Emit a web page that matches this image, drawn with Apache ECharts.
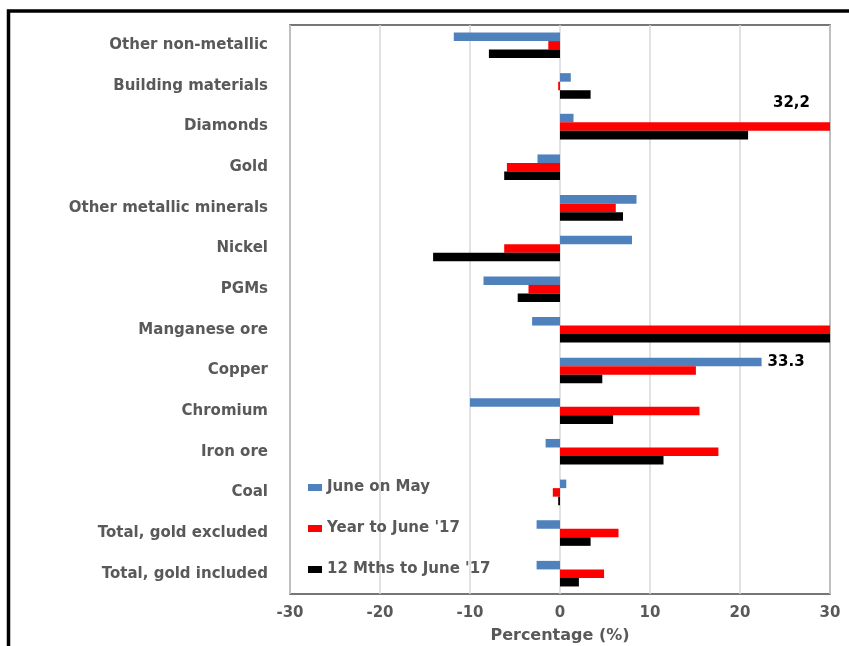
<!DOCTYPE html>
<html>
<head>
<meta charset="utf-8">
<script src="https://cdn.jsdelivr.net/npm/echarts@6/dist/echarts.min.js"></script>
<style>
  html, body { margin: 0; padding: 0; background: #fff; }
  #chart { width: 849px; height: 646px; }
</style>
</head>
<body>
<div id="chart"></div>
<script>
const categories = [
  "Other non-metallic", "Building materials", "Diamonds", "Gold",
  "Other metallic minerals", "Nickel", "PGMs", "Manganese ore", "Copper",
  "Chromium", "Iron ore", "Coal", "Total, gold excluded", "Total, gold included"
];
const seriesNames = ["June on May", "Year to June '17", "12 Mths to June '17"];
const juneOnMay = [-11.8, 1.2, 1.5, -2.5, 8.5, 8.0, -8.5, -3.1, 22.4, -10.0, -1.6, 0.7, -2.6, -2.6];
const yearToJune = [-1.3, -0.2, 32.2, -5.9, 6.2, -6.2, -3.5, 30.5, 15.1, 15.5, 17.6, -0.8, 6.5, 4.9];
const twelveMonths = [-7.9, 3.4, 20.9, -6.2, 7.0, -14.1, -4.7, 30.5, 4.7, 5.9, 11.5, -0.2, 3.4, 2.1];
const xTicks = { min: -30, max: 30, interval: 10 };
// annotation texts as printed on the original
const notes = { diamonds: "32,2", copper: "33.3" };

const grey = "#595959";
const font = "DejaVu Sans";

const noteLabel = {
  show: true, color: "#000", fontFamily: font, fontWeight: "bold", fontSize: 15
};

const blueData = juneOnMay.map((v, i) =>
  categories[i] === "Copper"
    ? { value: v, label: Object.assign({}, noteLabel, { position: "right", distance: 6, formatter: notes.copper }) }
    : v);
const redData = yearToJune.map((v, i) =>
  categories[i] === "Diamonds"
    ? { value: v, label: Object.assign({}, noteLabel, { position: "insideRight", distance: 5, offset: [-15, -23], formatter: notes.diamonds }) }
    : v);

const chart = echarts.init(document.getElementById("chart"), null, { renderer: "canvas" });

const barBase = { type: "bar", barGap: "0%", barCategoryGap: "37%", clip: true };

chart.setOption({
  animation: false,
  backgroundColor: "#fff",
  grid: {
    left: 290, right: 19, top: 25, bottom: 52,
    outerBoundsMode: "none",
    show: true, borderColor: "#4a4a4a", borderWidth: 1.5, backgroundColor: "transparent"
  },
  legend: {
    orient: "vertical", left: 303, top: 474,
    itemWidth: 14, itemHeight: 7, itemGap: 24,
    icon: "rect",
    textStyle: { color: grey, fontFamily: font, fontWeight: "bold", fontSize: 15, lineHeight: 17 },
    data: seriesNames
  },
  xAxis: {
    type: "value",
    min: xTicks.min, max: xTicks.max, interval: xTicks.interval,
    name: "Percentage (%)", nameLocation: "middle", nameGap: 34,
    nameTextStyle: { color: grey, fontFamily: font, fontWeight: "bold", fontSize: 16 },
    axisLine: { show: false },
    axisTick: { show: false },
    axisLabel: { color: grey, fontFamily: font, fontWeight: "bold", fontSize: 15, margin: 12 },
    splitLine: { show: true, lineStyle: { color: "#d9d9d9", width: 1.5 } }
  },
  yAxis: {
    type: "category",
    data: categories,
    inverse: true,
    axisLine: { show: false },
    axisTick: { show: false },
    axisLabel: { color: grey, fontFamily: font, fontWeight: "bold", fontSize: 15, margin: 22 }
  },
  series: [
    Object.assign({}, barBase, { name: seriesNames[0], data: blueData, itemStyle: { color: "#4F81BD" } }),
    Object.assign({}, barBase, { name: seriesNames[1], data: redData, itemStyle: { color: "#FF0000" } }),
    Object.assign({}, barBase, { name: seriesNames[2], data: twelveMonths, itemStyle: { color: "#000000" } })
  ],
  graphic: [{
    type: "rect", silent: true,
    shape: { x: 8.5, y: 11, width: 1000, height: 1000 },
    style: { fill: "none", stroke: "#000", lineWidth: 3.5 }
  }]
});
</script>
</body>
</html>
